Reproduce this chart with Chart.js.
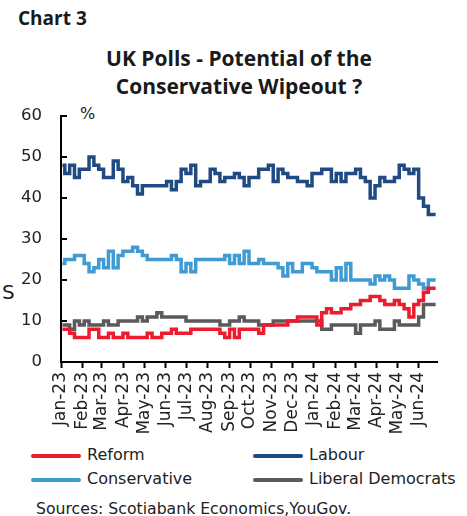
<!DOCTYPE html>
<html lang="en">
<head>
    <meta charset="UTF-8">
    <title>UK Polls - Potential of the Conservative Wipeout ?</title>
    <script src="https://cdn.jsdelivr.net/npm/chart.js@4.4.0/dist/chart.umd.min.js"></script>
    <style>
        body {
            margin: 0;
            background: #ffffff;
            font-family: 'DejaVu Sans', sans-serif;
            color: #1a1a1a;
        }
        .frame {
            position: relative;
            width: 467px;
            height: 516px;
            overflow: hidden;
        }
        .txt {
            position: absolute;
            white-space: nowrap;
            line-height: 1;
        }
        .chart-no { left: 18px; top: 9px; font-family: 'Open Sans', sans-serif; font-size: 19px; font-weight: 700; }
        .title {
            left: 0; width: 478px; top: 44px; font-family: 'Open Sans', sans-serif;
            text-align: center; font-size: 21px; font-weight: 700; line-height: 28px;
        }
        .unit { left: 80px; top: 106px; font-size: 16px; color: #222; }
        .stray { left: 2px; top: 282px; font-size: 20px; color: #222; }
        .chart-box { position: absolute; left: 0; top: 100px; width: 467px; height: 340px; }
        .leg { position: absolute; font-size: 16px; line-height: 1; white-space: nowrap; color: #222; }
        .leg .swatch { position: absolute; width: 50px; height: 4px; border-radius: 2px; }
        .source { left: 36px; top: 501px; font-size: 15.7px; color: #222; }
    </style>
</head>
<body>
<div class="frame">
    <div class="txt chart-no">Chart 3</div>
    <div class="txt title">UK Polls - Potential of the<br>Conservative Wipeout ?</div>
    <div class="txt unit">%</div>
    <div class="txt stray">S</div>
    <div class="chart-box"><canvas id="polls" width="467" height="340"></canvas></div>
    <div id="legend"></div>
    <div class="txt source">Sources: Scotiabank Economics,YouGov.</div>
</div>

<script>
    // month tick labels (first day of each month)
    const monthLabels = ['Jan-23', 'Feb-23', 'Mar-23', 'Apr-23', 'May-23', 'Jun-23', 'Jul-23', 'Aug-23', 'Sep-23',
        'Oct-23', 'Nov-23', 'Dec-23', 'Jan-24', 'Feb-24', 'Mar-24', 'Apr-24', 'May-24', 'Jun-24'];

    // weekly YouGov polls, first one on 3 Jan 2023
    const firstPollDay = 2;
    const pollStep = 7;

    const reform = [
        8, 8, 7, 6, 6, 6, 8, 8, 6, 6,
        7, 6, 6, 7, 6, 6, 6, 6, 7, 6,
        6, 7, 7, 8, 7, 7, 7, 8, 8, 8,
        8, 8, 8, 7, 6, 8, 6, 8, 8, 8,
        8, 7, 9, 9, 9, 9, 9, 10, 10, 11,
        11, 11, 11, 9, 12, 13, 12, 12, 13, 13,
        14, 14, 15, 15, 16, 16, 15, 14, 14, 15,
        14, 13, 11, 14, 15, 17, 18, 18
    ];
    const labour = [
        48, 46, 48, 45, 47, 47, 50, 48, 47, 45,
        45, 49, 47, 44, 45, 43, 41, 43, 43, 43,
        43, 43, 44, 42, 44, 47, 46, 48, 43, 44,
        44, 47, 46, 44, 45, 45, 46, 45, 43, 45,
        45, 47, 47, 48, 44, 47, 46, 45, 45, 44,
        44, 43, 46, 46, 47, 47, 44, 46, 44, 46,
        46, 47, 45, 44, 40, 43, 45, 44, 44, 45,
        48, 47, 46, 47, 40, 38, 36, 36
    ];
    const conservative = [
        24, 25, 25, 26, 26, 24, 22, 23, 25, 23,
        27, 23, 26, 27, 27, 28, 27, 26, 25, 25,
        25, 25, 25, 26, 25, 22, 24, 22, 25, 25,
        25, 25, 25, 25, 26, 24, 26, 24, 27, 24,
        24, 25, 24, 24, 24, 23, 21, 24, 22, 22,
        24, 24, 23, 22, 22, 22, 20, 23, 20, 24,
        20, 20, 20, 20, 19, 21, 20, 21, 20, 18,
        18, 18, 21, 20, 19, 18, 20, 20
    ];
    const libDems = [
        9, 9, 8, 10, 9, 10, 9, 9, 9, 10,
        9, 9, 10, 10, 10, 10, 11, 10, 11, 11,
        12, 11, 11, 11, 11, 11, 10, 10, 10, 10,
        10, 10, 10, 9, 9, 10, 10, 11, 10, 10,
        10, 9, 9, 9, 10, 10, 10, 10, 10, 10,
        10, 10, 10, 10, 8, 8, 9, 9, 9, 9,
        9, 7, 9, 9, 9, 10, 8, 8, 8, 10,
        9, 9, 9, 9, 11, 14, 14, 14
    ];

    const series = [
        { label: 'Reform', data: reform, color: '#ec1c2e' },
        { label: 'Labour', data: labour, color: '#1f4b82' },
        { label: 'Conservative', data: conservative, color: '#3f9bd2' },
        { label: 'Liberal Democrats', data: libDems, color: '#5a5a5a' }
    ];

    // day offsets of month starts from 1 Jan 2023
    const dayMs = 86400000;
    const monthDays = monthLabels.map((_, i) =>
        Math.round((Date.UTC(2023, i, 1) - Date.UTC(2023, 0, 1)) / dayMs));

    const toPoints = arr => arr.map((v, i) => ({ x: firstPollDay + i * pollStep, y: v }));

    // y ticks point into the plot
    const innerTicks = {
        id: 'innerTicks',
        afterDraw(chart) {
            const { ctx, chartArea, scales } = chart;
            ctx.save();
            ctx.strokeStyle = '#000';
            ctx.lineWidth = 2;
            scales.y.ticks.forEach(t => {
                const y = scales.y.getPixelForValue(t.value);
                ctx.beginPath();
                ctx.moveTo(chartArea.left, y);
                ctx.lineTo(chartArea.left + 6, y);
                ctx.stroke();
            });
            ctx.restore();
        }
    };

    new Chart(document.getElementById('polls'), {
        type: 'line',
        data: {
            datasets: series.map(s => ({
                label: s.label,
                data: toPoints(s.data),
                borderColor: s.color,
                backgroundColor: s.color,
                borderWidth: 3.5,
                stepped: 'middle',
                pointRadius: 0,
                fill: false
            }))
        },
        options: {
            responsive: false,
            animation: false,
            layout: { padding: { left: 0, right: 30, top: 16, bottom: 0 } },
            plugins: {
                legend: { display: false },
                tooltip: { enabled: false }
            },
            scales: {
                x: {
                    type: 'linear',
                    min: 0,
                    max: 543,
                    afterBuildTicks: s => { s.ticks = monthDays.map(d => ({ value: d })); },
                    afterFit: s => { s.height = 78; },
                    ticks: {
                        autoSkip: false,
                        minRotation: 90,
                        maxRotation: 90,
                        padding: 4,
                        color: '#222',
                        font: { family: "'DejaVu Sans', sans-serif", size: 17 },
                        callback: (v, i) => monthLabels[i]
                    },
                    grid: { drawOnChartArea: false, tickLength: 6, tickWidth: 2, tickColor: '#000' },
                    border: { color: '#000', width: 2 }
                },
                y: {
                    min: 0,
                    max: 60,
                    afterFit: s => { s.width = 61; },
                    ticks: {
                        stepSize: 10,
                        padding: 2,
                        color: '#222',
                        font: { family: "'DejaVu Sans', sans-serif", size: 16.5 }
                    },
                    // outer ticks kept invisible, they only push the labels out
                    grid: { drawOnChartArea: false, tickLength: 17, tickColor: 'rgba(0,0,0,0)' },
                    border: { color: '#000', width: 2 }
                }
            }
        },
        plugins: [innerTicks]
    });

    // legend in two columns
    const legendSpots = [[31, 447], [253, 447], [31, 471], [253, 471]];
    const legendBox = document.getElementById('legend');
    series.forEach((s, i) => {
        const [x, y] = legendSpots[i];
        const item = document.createElement('div');
        item.className = 'leg';
        item.style.left = x + 'px';
        item.style.top = y + 'px';
        item.innerHTML = '<span class="swatch" style="left:0;top:7px;background:' + s.color + '"></span>' +
            '<span style="margin-left:56px">' + s.label + '</span>';
        legendBox.appendChild(item);
    });
</script>
</body>
</html>
